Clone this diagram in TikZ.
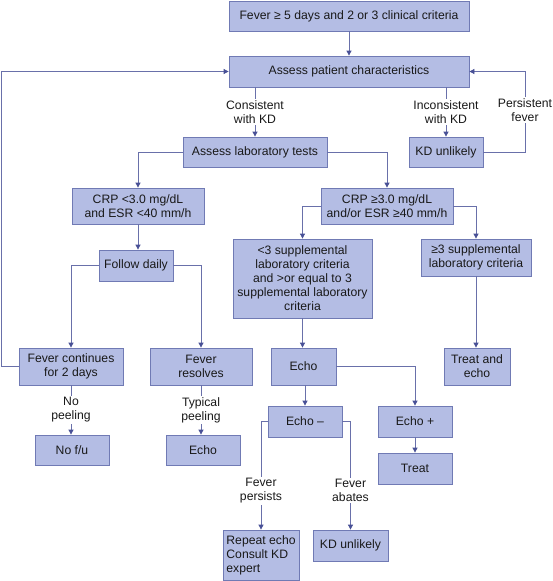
\documentclass[tikz,border=0pt]{standalone}
\usepackage{fontspec}
\setmainfont{Liberation Sans}
\usetikzlibrary{arrows.meta}
\definecolor{boxfill}{RGB}{180,189,228}
\definecolor{boxdraw}{RGB}{112,122,180}
\definecolor{lineclr}{RGB}{105,112,170}
\definecolor{tipclr}{RGB}{72,80,150}
\definecolor{txt}{RGB}{25,25,25}
\tikzset{
  box/.style={draw=boxdraw, fill=boxfill, line width=0.8pt, inner sep=0pt, align=center, text=txt},
  arr/.style={draw=lineclr, line width=0.8pt, -{Triangle[length=5pt,width=5pt,color=tipclr]}},
  lbl/.style={fill=white, inner sep=1.5pt, align=center, text=txt}
}
\begin{document}
\begin{tikzpicture}[x=1pt,y=-1pt, font=\fontsize{12.2}{14}\selectfont]
\useasboundingbox[fill=white] (0,0) rectangle (553,581);

\node[box,minimum width=240pt,minimum height=30pt] (top) at (349,16) {Fever ≥ 5 days and 2 or 3 clinical criteria};
\node[box,minimum width=240pt,minimum height=31pt] (assess) at (349,71.5) {Assess patient characteristics};
\node[box,minimum width=144pt,minimum height=30pt] (lab) at (255,152) {Assess laboratory tests};
\node[box,minimum width=74pt,minimum height=30pt] (kdu) at (446,152) {KD unlikely};
\node[box,minimum width=132pt,minimum height=36pt] (crpl) at (138,206) {CRP <3.0 mg/dL\\and ESR <40 mm/h};
\node[box,minimum width=132pt,minimum height=36pt] (crph) at (387,206) {CRP ≥3.0 mg/dL\\and/or ESR ≥40 mm/h};
\node[box,minimum width=74pt,minimum height=31pt] (follow) at (136,265.5) {Follow daily};
\node[box,minimum width=139pt,minimum height=79pt] (supl) at (302.5,278.5) {<3 supplemental\\laboratory criteria\\and >or equal to 3\\supplemental laboratory\\criteria};
\node[box,minimum width=110pt,minimum height=37pt] (suph) at (476,257.5) {≥3 supplemental\\laboratory criteria};
\node[box,minimum width=104pt,minimum height=37pt] (fc) at (71,366.5) {Fever continues\\for 2 days};
\node[box,minimum width=102pt,minimum height=37pt] (fr) at (201,366.5) {Fever\\resolves};
\node[box,minimum width=65pt,minimum height=37pt] (echo) at (303.5,366.5) {Echo};
\node[box,minimum width=66pt,minimum height=37pt] (te) at (477,366.5) {Treat and\\echo};
\node[box,minimum width=74pt,minimum height=30pt] (nofu) at (72,450) {No f/u};
\node[box,minimum width=74pt,minimum height=30pt] (echo2) at (203,450) {Echo};
\node[box,minimum width=74pt,minimum height=31pt] (em) at (305,421.5) {Echo –};
\node[box,minimum width=74pt,minimum height=31pt] (ep) at (415,421.5) {Echo +};
\node[box,minimum width=74pt,minimum height=31pt] (treat) at (415,468.5) {Treat};
\node[box,minimum width=76pt,minimum height=50pt,align=left] (rep) at (261,555) {Repeat echo\\Consult KD\\expert};
\node[box,minimum width=75pt,minimum height=31pt] (kdu2) at (350.5,545.5) {KD unlikely};

\coordinate (pfc) at (525,71.5);
\coordinate (lc) at (1,71.5);

\draw[arr] (top) -- (assess);
\draw[arr] (lab.north |- assess.south) -- node[lbl]{Consistent\\with KD} (lab.north);
\draw[arr] (kdu.north |- assess.south) -- node[lbl]{Inconsistent\\with KD} (kdu.north);
\draw[arr] (kdu.east) -| node[lbl,pos=0.76]{Persistent\\fever} (pfc) -- (assess.east);
\draw[arr] (fc.west) -| (lc) -- (assess.west);
\draw[arr] (lab.west) -| (crpl.north);
\draw[arr] (lab.east) -| (crph.north);
\draw[arr] (crpl.south) -- (crpl.south |- follow.north);
\draw[arr] (follow.west) -| (fc.north);
\draw[arr] (follow.east) -| (fr.north);
\draw[arr] (crph.west) -| (supl.north);
\draw[arr] (crph.east) -| (suph.north);
\draw[arr] (supl.south) -- (supl.south |- echo.north);
\draw[arr] (suph.south) -- (suph.south |- te.north);
\draw[arr] (echo.east) -| (ep.north);
\draw[arr] (em.north |- echo.south) -- (em.north);
\draw[arr] (fc.south) -- node[lbl]{No\\peeling} (fc.south |- nofu.north);
\draw[arr] (fr.south) -- node[lbl]{Typical\\peeling} (fr.south |- echo2.north);
\draw[arr] (em.west) -| node[lbl,pos=0.82]{Fever\\persists} (rep.north);
\draw[arr] (em.east) -| node[lbl,pos=0.82]{Fever\\abates} (kdu2.north);
\draw[arr] (ep.south) -- (treat.north);
\end{tikzpicture}
\end{document}
